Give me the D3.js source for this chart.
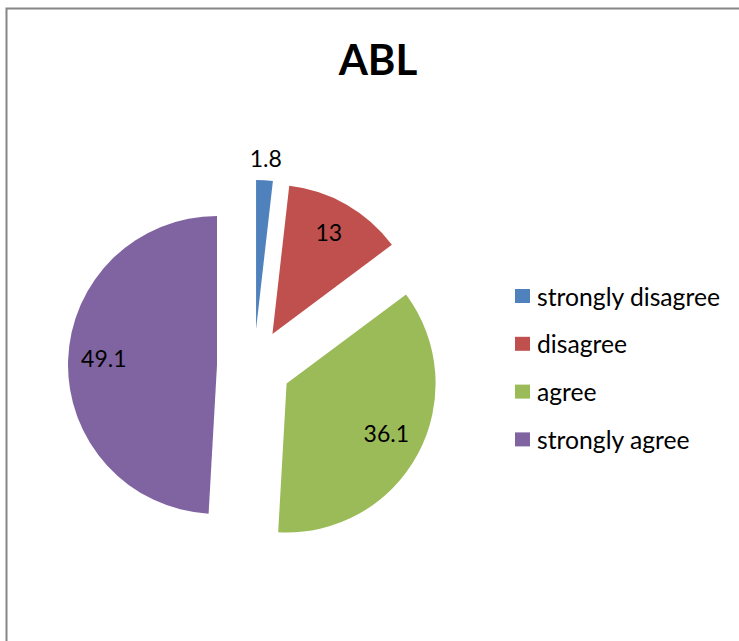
<!DOCTYPE html>
<html>
<head>
<meta charset="utf-8">
<script src="https://cdn.jsdelivr.net/npm/d3@7"></script>
<style>
  html, body { margin: 0; padding: 0; background: #fff; }
  svg { display: block; }
</style>
</head>
<body>
<svg id="chart" width="739" height="641"></svg>
<script>
const title = "ABL";
const categories = ["strongly disagree", "disagree", "agree", "strongly agree"];
const values = [1.8, 13, 36.1, 49.1];
const colors = ["#4F81BD", "#C0504D", "#9BBB59", "#8064A2"];

const W = 739, H = 641;
const svg = d3.select("#chart");
const font = "Lato, 'Open Sans', sans-serif";

// outer frame
svg.append("rect")
  .attr("x", 6.5).attr("y", 8.5)
  .attr("width", W + 20).attr("height", H + 20)
  .attr("fill", "#fff").attr("stroke", "#868686").attr("stroke-width", 2);

svg.append("text")
  .attr("x", 378).attr("y", 75)
  .attr("text-anchor", "middle")
  .attr("font-family", font).attr("font-weight", "bold")
  .attr("font-size", 42).attr("fill", "#000")
  .text(title);

const cx = 254, cy = 366, r = 149, explode = 37;
const data = categories.map((c, i) => ({ cat: c, value: values[i], color: colors[i] }));
const pie = d3.pie().value(d => d.value).sort(null).startAngle(0).endAngle(2 * Math.PI);
const arcs = pie(data);
const arc = d3.arc().innerRadius(0).outerRadius(r);

const g = svg.append("g").attr("transform", `translate(${cx},${cy})`);

arcs.forEach(a => {
  const mid = (a.startAngle + a.endAngle) / 2;
  const dx = Math.sin(mid) * explode, dy = -Math.cos(mid) * explode;
  const sg = g.append("g").attr("transform", `translate(${dx},${dy})`);
  sg.append("path").attr("d", arc(a)).attr("fill", a.data.color);
  const outside = a.data.value < 5;
  const lr = outside ? r + 22 : r * 0.76;
  sg.append("text")
    .attr("x", Math.sin(mid) * lr).attr("y", -Math.cos(mid) * lr - (outside ? 0 : 4))
    .attr("text-anchor", "middle").attr("dominant-baseline", "central")
    .attr("font-family", font).attr("font-size", 23).attr("fill", "#000")
    .text(d3.format("")(a.data.value));
});

// legend
const leg = svg.append("g").attr("transform", "translate(515,296)");
categories.forEach((c, i) => {
  const row = leg.append("g").attr("transform", `translate(0,${i * 47.8})`);
  row.append("rect").attr("x", 0).attr("y", -7).attr("width", 15).attr("height", 14).attr("fill", colors[i]);
  row.append("text").attr("x", 22).attr("y", 0)
    .attr("dominant-baseline", "central")
    .attr("font-family", font).attr("font-size", 24.7).attr("fill", "#000")
    .text(c);
});
</script>
</body>
</html>
